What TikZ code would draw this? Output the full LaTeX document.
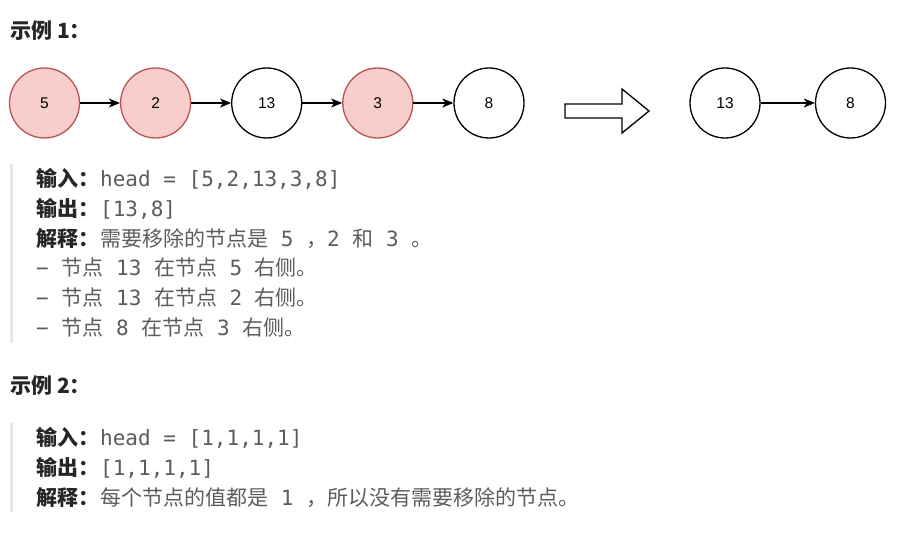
\documentclass[tikz,border=0pt]{standalone}
\usepackage{fontspec}
\setmainfont{Liberation Sans}
\newfontfamily\cjkfont{Noto Sans CJK SC}
\newfontfamily\monofont{DejaVu Sans Mono}
\usetikzlibrary{arrows.meta}
\definecolor{pinkfill}{HTML}{F8CECC}
\definecolor{pinkline}{HTML}{B85450}
\definecolor{labelcol}{HTML}{262626}
\definecolor{valcol}{HTML}{5C5C5C}
\definecolor{barcol}{HTML}{E8E8E8}
\newcommand\cj[1]{{\cjkfont\fontsize{21}{26}\selectfont #1}}
\tikzset{
  lnode/.style={circle, draw=black, line width=1.3pt, minimum size=70pt, inner sep=0pt, font=\fontsize{15.5}{18}\selectfont},
  rnode/.style={lnode, fill=pinkfill, draw=pinkline},
  link/.style={line width=1.3pt, -{Stealth[length=11pt,width=9pt,inset=3pt]}},
  heading/.style={anchor=base west, inner sep=0pt, text=labelcol, font=\cjkfont\bfseries\fontsize{21}{25}\selectfont},
  lbl/.style={anchor=base west, inner sep=0pt, text=labelcol, font=\cjkfont\bfseries\fontsize{21}{26}\selectfont},
  val/.style={anchor=base west, inner sep=0pt, text=valcol, font=\monofont\fontsize{21}{26}\selectfont},
  bar/.style={fill=barcol, draw=none},
  fatarrow/.style={draw=black, line width=1.3pt, fill=white, line join=miter},
}
\begin{document}
\begin{tikzpicture}[x=1pt, y=-1pt]
\useasboundingbox (0,0) rectangle (901,534);
% headings
\node[heading] (h1) at (10,39) {示例 1：};
\node[heading] (h2) at (10,393) {示例 2：};
% list 1
\node[rnode] (a5) at (44.5,103) {5};
\node[rnode] (a2) at (155.6,103) {2};
\node[lnode] (a13) at (266.7,103) {13};
\node[rnode] (a3) at (377.8,103) {3};
\node[lnode] (a8) at (489,103) {8};
\draw[link] (a5) -- (a2);
\draw[link] (a2) -- (a13);
\draw[link] (a13) -- (a3);
\draw[link] (a3) -- (a8);
% big arrow
\draw[fatarrow] (565,104) -- (622,104) -- (622,89) -- (649,111) -- (622,133) -- (622,118) -- (565,118) -- cycle;
% result list
\node[lnode] (b13) at (725,103) {13};
\node[lnode] (b8) at (850.5,103) {8};
\draw[link] (b13) -- (b8);
% example 1 block
\fill[bar] (9.5,164) rectangle (12.5,343);
\node[lbl] (in1) at (36,186.5) {输入：};
\node[val] (vin1) at (100,186.5) {head~=~[5,2,13,3,8]};
\node[lbl] (out1) at (36,216.3) {输出：};
\node[val] (vout1) at (100,216.3) {[13,8]};
\node[lbl] (ex1) at (36,246.1) {解释：};
\node[val] (vex1) at (100,246.1) {\cj{需要移除的节点是}~5~\cj{，}2~\cj{和}~3~\cj{。}};
\node[val] (d1) at (36,275.9) {−~\cj{节点}~13~\cj{在节点}~5~\cj{右侧。}};
\node[val] (d2) at (36,305.7) {−~\cj{节点}~13~\cj{在节点}~2~\cj{右侧。}};
\node[val] (d3) at (36,335.5) {−~\cj{节点}~8~\cj{在节点}~3~\cj{右侧。}};
% example 2 block
\fill[bar] (9.5,423) rectangle (12.5,512);
\node[lbl] (in2) at (36,445.5) {输入：};
\node[val] (vin2) at (100,445.5) {head~=~[1,1,1,1]};
\node[lbl] (out2) at (36,475.3) {输出：};
\node[val] (vout2) at (100,475.3) {[1,1,1,1]};
\node[lbl] (ex2) at (36,505.1) {解释：};
\node[val] (vex2) at (100,505.1) {\cj{每个节点的值都是}~1~\cj{，所以没有需要移除的节点。}};
\end{tikzpicture}
\end{document}
